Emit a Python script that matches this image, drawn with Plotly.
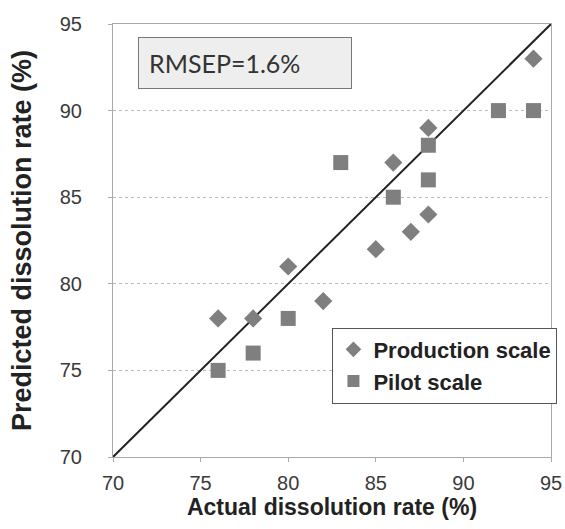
import plotly.graph_objects as go

prod_x = [76, 78, 80, 82, 85, 86, 87, 88, 88, 94]
prod_y = [78, 78, 81, 79, 82, 87, 83, 84, 89, 93]
pilot_x = [76, 78, 80, 83, 86, 88, 88, 92, 94]
pilot_y = [75, 76, 78, 87, 85, 86, 88, 90, 90]
line_x = [70, 95]
line_y = [70, 95]
ticks = [70, 75, 80, 85, 90, 95]

fig = go.Figure()
fig.add_trace(go.Scatter(x=line_x, y=line_y, mode="lines", line=dict(color="#222222", width=2),
                         showlegend=False, hoverinfo="skip"))
fig.add_trace(go.Scatter(x=prod_x, y=prod_y, mode="markers", name="<b>Production scale</b>",
                         marker=dict(symbol="diamond", size=14, color="#7f7f7f",
                                     line=dict(width=0))))
fig.add_trace(go.Scatter(x=pilot_x, y=pilot_y, mode="markers", name="<b>Pilot scale</b>",
                         marker=dict(symbol="square", size=15, color="#7f7f7f",
                                     line=dict(width=0))))

tickfont = dict(size=20, color="#3a3a3a", family="Arial, Liberation Sans")

fig.update_layout(
    width=565, height=529,
    margin=dict(l=113, r=14, t=24, b=72, autoexpand=False),
    paper_bgcolor="white", plot_bgcolor="white",
    font=dict(family="Arial, Liberation Sans", color="#333333"),
    xaxis=dict(range=[70, 95], tickvals=ticks, showgrid=False, automargin=False,
               showline=True, linecolor="#aaaaaa", linewidth=1, mirror=True,
               ticks="outside", ticklen=4, tickcolor="#aaaaaa",
               tickfont=tickfont, ticklabelstandoff=4,
               title=dict(text="<b>Actual dissolution rate (%)</b>",
                          font=dict(size=23, color="#222222"), standoff=4),
               zeroline=False),
    yaxis=dict(range=[70, 95], tickvals=ticks, showgrid=True, gridcolor="#bbbbbb",
               griddash="dot", gridwidth=1, automargin=False,
               showline=True, linecolor="#aaaaaa", linewidth=1, mirror=True,
               ticks="outside", ticklen=4, tickcolor="#aaaaaa",
               tickfont=tickfont, ticklabelstandoff=22,
               title=dict(text="<b>Predicted dissolution rate (%)</b>",
                          font=dict(size=27, color="#222222"), standoff=20),
               zeroline=False),
    legend=dict(x=0.501, y=0.299, xanchor="left", yanchor="top",
                bgcolor="white", bordercolor="#555555", borderwidth=1,
                font=dict(size=22, color="#222222", family="Arial, Liberation Sans"),
                itemsizing="constant", tracegroupgap=2, itemwidth=30),
    showlegend=True,
)

fig.add_annotation(x=0.057, y=0.97, xref="paper", yref="paper", xanchor="left", yanchor="top",
                   text="RMSEP=1.6%", showarrow=False,
                   font=dict(family="Lato, Open Sans", size=25, color="#333333"),
                   bgcolor="#eeeeee", bordercolor="#777777", borderwidth=1,
                   borderpad=10, width=192, align="left")

fig.write_html("out.html")
